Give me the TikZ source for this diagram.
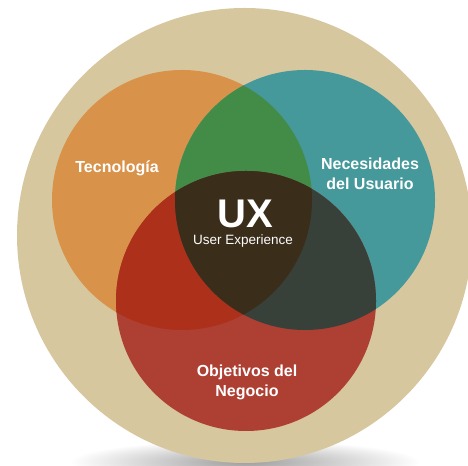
\documentclass[tikz,border=0pt]{standalone}
\usepackage{fontspec}
\setmainfont{Liberation Sans}
\usetikzlibrary{shapes}

\definecolor{beigecol}{HTML}{D7C79F}
\definecolor{tecnocol}{HTML}{D8924A}
\definecolor{usuariocol}{HTML}{45999B}
\definecolor{negociocol}{HTML}{AE3F33}
\definecolor{tecusucol}{HTML}{438C48}
\definecolor{tecnegcol}{HTML}{AD301A}
\definecolor{usunegcol}{HTML}{37413A}
\definecolor{uxcol}{HTML}{3A2D1A}

\begin{document}
\begin{tikzpicture}[x=1bp,y=1bp,line join=bevel,
  label/.style={text=white,font=\bfseries\fontsize{16bp}{20bp}\selectfont,align=center}]
\useasboundingbox (0,0) rectangle (468,466);

% Centres
\coordinate (big) at (244.5,230.5);
\coordinate (tec) at (182,266);
\coordinate (usu) at (305,266);
\coordinate (neg) at (246,165);

% Shadow
\shade[inner color=black!38,outer color=white] (245,4) ellipse [x radius=175bp,y radius=22bp];

% Circle: background
\fill[beigecol] (big) circle (227.5bp);

% Circle: Tecnologia
\fill[tecnocol] (tec) circle (130bp);

% Circle: Usuario
\fill[usuariocol] (usu) circle (130bp);

% Circle: Negocio
\fill[negociocol] (neg) circle (130bp);

% Overlap: Tecnologia & Usuario
\begin{scope}
  \clip (tec) circle (130bp);
  \fill[tecusucol] (usu) circle (130bp);
\end{scope}

% Overlap: Tecnologia & Negocio
\begin{scope}
  \clip (tec) circle (130bp);
  \fill[tecnegcol] (neg) circle (130bp);
\end{scope}

% Overlap: Usuario & Negocio
\begin{scope}
  \clip (usu) circle (130bp);
  \fill[usunegcol] (neg) circle (130bp);
\end{scope}

% Overlap: all three
\begin{scope}
  \clip (tec) circle (130bp);
  \clip (usu) circle (130bp);
  \fill[uxcol] (neg) circle (130bp);
\end{scope}

% Labels
\node[label] (tecno) at (117,298) {Tecnología};
\node[label] (usuario) at (370,292) {Necesidades\\del Usuario};
\node[label] (negocio) at (247,84) {Objetivos del\\Negocio};
\node[text=white,font=\bfseries\fontsize{40bp}{40bp}\selectfont,inner sep=0pt,anchor=base] (ux) at (245,238) {UX};
\node[text=white,font=\fontsize{13.5bp}{16bp}\selectfont,inner sep=0pt,anchor=base] (uxlong) at (243,221) {User Experience};

\end{tikzpicture}
\end{document}
